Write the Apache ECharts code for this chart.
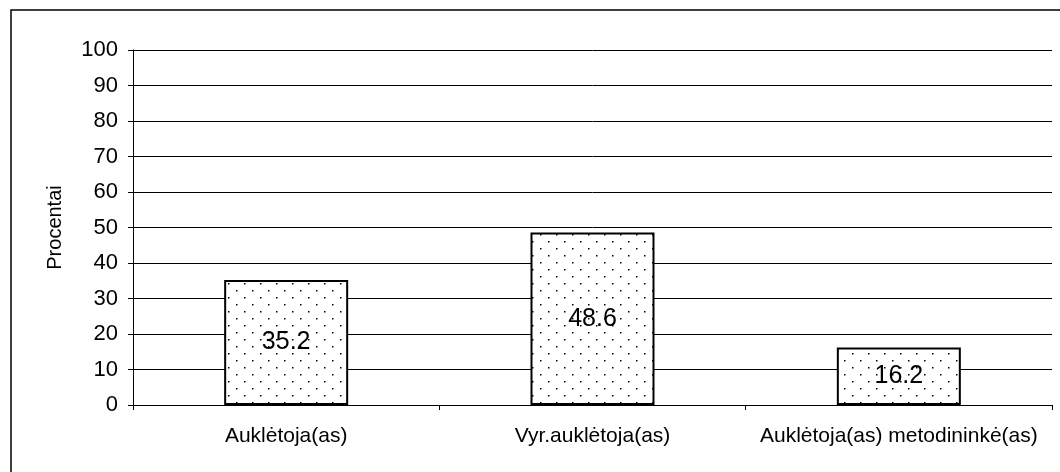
<!DOCTYPE html>
<html>
<head>
<meta charset="utf-8">
<script src="https://cdn.jsdelivr.net/npm/echarts@6/dist/echarts.min.js"></script>
<style>
  html, body { margin: 0; padding: 0; background: #fff; }
  #chart { width: 1060px; height: 472px; }
</style>
</head>
<body>
<div id="chart"></div>
<script>
var categories = ['Auklėtoja(as)', 'Vyr.auklėtoja(as)', 'Auklėtoja(as) metodininkė(as)']
var values = [35.2, 48.6, 16.2]
var axisName = 'Procentai'

// taškuotas užpildas
function dots() {
	var c = document.createElement('canvas')
	c.width = 16
	c.height = 14
	var ctx = c.getContext('2d')
	ctx.fillStyle = '#fff'
	ctx.fillRect(0, 0, 16, 14)
	ctx.fillStyle = '#000'
	ctx.fillRect(4, 3, 1.5, 1.5)
	ctx.fillRect(12, 10, 1.5, 1.5)
	return c
}

var font = 'Liberation Sans, Arial, sans-serif'
var chart = echarts.init(document.getElementById('chart'))

chart.setOption({
	animation: false,
	graphic: [{
		type: 'rect',
		shape: { x: 11, y: 10, width: 1100, height: 500 },
		style: { fill: 'none', stroke: '#000', lineWidth: 1.5 },
		silent: true
	}],
	grid: { left: 133, right: 8, top: 50, bottom: 67 },
	xAxis: {
		type: 'category',
		data: categories,
		axisLine: { lineStyle: { color: '#000', width: 1 } },
		axisTick: { show: true, length: 5, lineStyle: { color: '#000' } },
		axisLabel: {
			interval: 0,
			hideOverlap: false,
			color: '#000',
			fontSize: 21,
			fontFamily: font,
			margin: 21
		}
	},
	yAxis: {
		type: 'value',
		min: 0,
		max: 100,
		interval: 10,
		name: axisName,
		nameLocation: 'middle',
		nameGap: 68,
		nameTextStyle: { color: '#000', fontSize: 20, fontFamily: font },
		axisLine: { show: true, lineStyle: { color: '#000', width: 1 } },
		axisTick: { show: true, length: 5, lineStyle: { color: '#000' } },
		axisLabel: { color: '#000', fontSize: 22, fontFamily: font, margin: 15 },
		splitLine: { show: true, lineStyle: { color: '#000', width: 1 } }
	},
	series: [{
		type: 'bar',
		data: values,
		barWidth: 124,
		itemStyle: {
			color: { image: dots(), repeat: 'repeat' },
			borderColor: '#000',
			borderWidth: 2
		},
		label: {
			show: true,
			position: 'inside',
			color: '#000',
			fontSize: 25,
			fontFamily: font,
			formatter: function(p) { return p.value.toFixed(1) }
		}
	}]
})
</script>
</body>
</html>
